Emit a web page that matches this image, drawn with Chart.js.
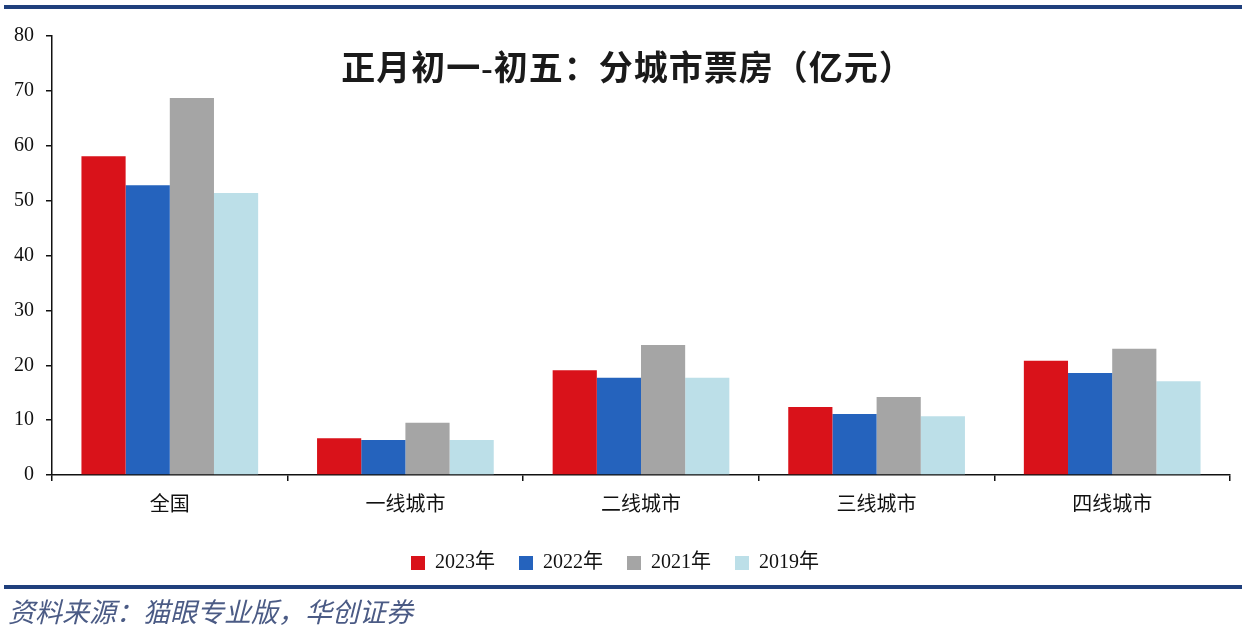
<!DOCTYPE html>
<html>
<head>
<meta charset="utf-8">
<script src="https://cdn.jsdelivr.net/npm/chart.js@4"></script>
<style>
  body { margin: 0; background: #fff; width: 1255px; height: 636px; overflow: hidden; position: relative; }
  #wrap { position: absolute; left: 0; top: 0; width: 1255px; height: 636px; }
  .rule { position: absolute; left: 4px; width: 1238px; height: 4px; background: #1f3f7c; }
  #title { position: absolute; left: 0; width: 1255px; top: 41px; text-align: center;
    font: bold 34px "Liberation Serif", "Noto Sans CJK SC", serif; color: #1a1a1a; letter-spacing: 1px; }
  #source { position: absolute; left: 8px; top: 591px; font: italic 27px "Noto Sans CJK SC", serif; color: #4b5b85; }
</style>
</head>
<body>
<div class="rule" style="top:5px"></div>
<div id="wrap"><canvas id="c"></canvas></div>
<div id="title">正月初一-初五：分城市票房（亿元）</div>
<div class="rule" style="top:585px"></div>
<div id="source">资料来源：猫眼专业版，华创证券</div>
<script>
// 分城市票房 (亿元)
const categories = ["全国", "一线城市", "二线城市", "三线城市", "四线城市"];
const seriesNames = ["2023年", "2022年", "2021年", "2019年"];
const v2023 = [58.1, 6.7, 19.1, 12.4, 20.8];
const v2022 = [52.8, 6.4, 17.7, 11.1, 18.6];
const v2021 = [68.7, 9.5, 23.7, 14.2, 23.0];
const v2019 = [51.4, 6.4, 17.7, 10.7, 17.1];
const colors = ["#d9121a", "#2563bd", "#a5a5a5", "#bcdfe8"];

const serif = "'Liberation Serif', 'Noto Sans CJK SC', serif";

new Chart(document.getElementById("c"), {
  type: "bar",
  data: {
    labels: categories,
    datasets: [v2023, v2022, v2021, v2019].map((d, i) => ({
      label: seriesNames[i],
      data: d,
      backgroundColor: colors[i],
      borderWidth: 0,
      categoryPercentage: 0.75,
      barPercentage: 1.0,
    })),
  },
  options: {
    responsive: true,
    maintainAspectRatio: false,
    animation: false,
    layout: { padding: { top: 36, right: 25, bottom: 53, left: 0 } },
    plugins: {
      title: { display: false },
      tooltip: { enabled: false },
      legend: {
        position: "bottom",
        labels: {
          boxWidth: 14,
          boxHeight: 14,
          padding: 24,
          color: "#111",
          font: { family: serif, size: 20 },
        },
      },
    },
    scales: {
      x: {
        afterFit: (s) => { s.height = 54; },
        border: { color: "#111", width: 1.5 },
        grid: { display: true, drawOnChartArea: false, offset: true, tickLength: 6, color: "#111", lineWidth: 1.5 },
        ticks: { color: "#111", padding: 10, font: { family: "'Noto Sans CJK SC', sans-serif", size: 20 } },
      },
      y: {
        min: 0,
        max: 80,
        afterFit: (s) => { s.width = 52; },
        border: { color: "#111", width: 1.5 },
        grid: { display: true, drawOnChartArea: false, tickLength: 6, color: "#111", lineWidth: 1.5 },
        ticks: { stepSize: 10, color: "#111", padding: 12, font: { family: serif, size: 20 } },
      },
    },
  },
});
</script>
</body>
</html>
